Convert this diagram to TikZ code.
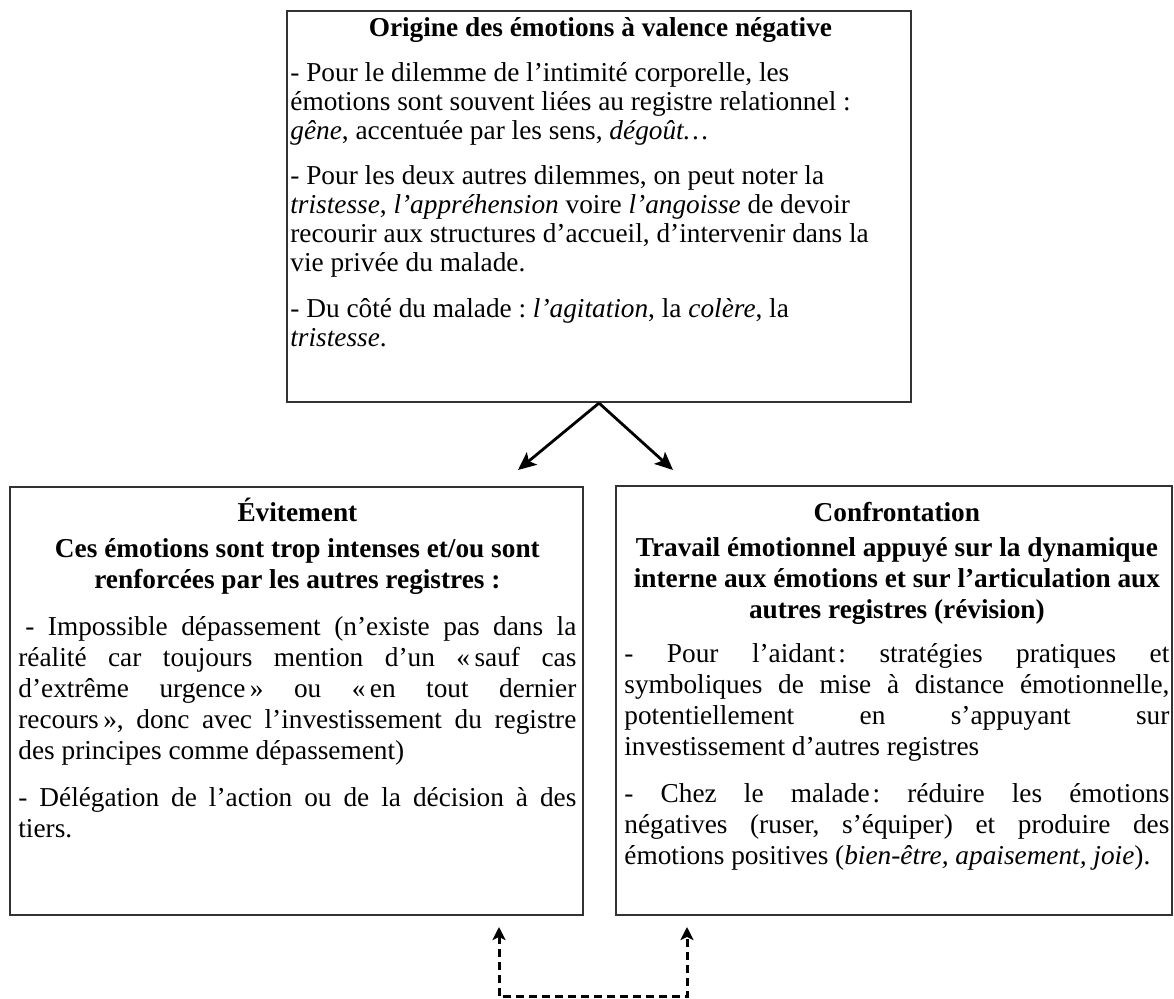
\documentclass[tikz,border=0pt]{standalone}
\usepackage{fontspec}
\setmainfont{Liberation Serif}
\usetikzlibrary{arrows.meta}
\newcommand\bodyfnt{\fontsize{13.65pt}{15.5pt}\selectfont\frenchspacing\hbadness=10000\hfuzz=30pt}
\newcommand\topfnt{\fontsize{13.65pt}{14.5pt}\selectfont\frenchspacing\hbadness=10000\hfuzz=30pt}
\newcommand\jline[1]{\hbox to\hsize{#1}}
\newcommand\nline[1]{\hbox{#1}}
\newcommand\ctrline[1]{\hbox to\hsize{\hss#1\hss}}
\newcommand\txtblock[2]{\vtop{\hsize=#1\relax #2}}
\begin{document}
\begin{tikzpicture}[x=0.5pt,y=-0.5pt,
  boxst/.style={draw=black!80, line width=1.1pt, inner sep=0pt},
  txt/.style={inner sep=0pt, anchor=base west},
  arr/.style={line width=1.4pt, -{Stealth[length=9pt,width=8pt,inset=2pt]}},
  dsh/.style={line width=1.5pt, dash pattern=on 4pt off 2.5pt,
    {Stealth[length=6.5pt,width=6.5pt,inset=1.5pt]}-{Stealth[length=6.5pt,width=6.5pt,inset=1.5pt]}}]
\useasboundingbox (0,0) rectangle (1174,999);

% boxes
\node[boxst, minimum width=312pt, minimum height=195.5pt] (top) at (599,206.5) {};
\node[boxst, minimum width=286.5pt, minimum height=214pt] (left) at (296.5,701) {};
\node[boxst, minimum width=278pt, minimum height=214.5pt] (right) at (894,700.5) {};

% texts
\node[txt, font=\topfnt] (toptxt) at (290,37) {\txtblock{310pt}{%
\ctrline{\bfseries Origine des émotions à valence négative}
\vskip8pt
\nline{- Pour le dilemme de l’intimité corporelle, les}
\nline{émotions sont souvent liées au registre relationnel :}
\nline{\textit{gêne}, accentuée par les sens, \textit{dégoût…}}
\vskip8pt
\nline{- Pour les deux autres dilemmes, on peut noter la}
\nline{\textit{tristesse}, \textit{l’appréhension} voire \textit{l’angoisse} de devoir}
\nline{recourir aux structures d’accueil, d’intervenir dans la}
\nline{vie privée du malade.}
\vskip8.5pt
\nline{- Du côté du malade : \textit{l’agitation}, la \textit{colère}, la}
\nline{\textit{tristesse}.}}};

\node[txt, font=\bodyfnt] (lefttxt) at (18,522) {\txtblock{279pt}{%
\ctrline{\bfseries Évitement}
\vskip2.5pt
\ctrline{\bfseries Ces émotions sont trop intenses et/ou sont}
\ctrline{\bfseries renforcées par les autres registres :}
\vskip8pt
\jline{\kern3.5pt- Impossible dépassement (n’existe pas dans la}
\jline{réalité car toujours mention d’un «\,sauf cas}
\jline{d’extrême urgence\,» ou «\,en tout dernier}
\jline{recours\,», donc avec l’investissement du registre}
\nline{des principes comme dépassement)}
\vskip8pt
\jline{- Délégation de l’action ou de la décision à des}
\nline{tiers.}}};

\node[txt, font=\bodyfnt] (righttxt) at (624,522) {\txtblock{272.5pt}{%
\ctrline{\bfseries Confrontation}
\vskip2pt
\ctrline{\bfseries Travail émotionnel appuyé sur la dynamique}
\ctrline{\bfseries interne aux émotions et sur l’articulation aux}
\ctrline{\bfseries autres registres (révision)}
\vskip6.5pt
\jline{- Pour l’aidant\kern1.5pt: stratégies pratiques et}
\jline{symboliques de mise à distance émotionnelle,}
\jline{potentiellement en s’appuyant sur}
\nline{investissement d’autres registres}
\vskip8pt
\jline{- Chez le malade\kern1.5pt: réduire les émotions}
\jline{négatives (ruser, s’équiper) et produire des}
\nline{émotions positives (\textit{bien-être, apaisement, joie}).}}};

% connectors
\coordinate (tl) at (518,470);
\coordinate (tr) at (673,470);
\draw[arr] (top.south) -- (tl);
\draw[arr] (top.south) -- (tr);

\coordinate (al) at (499,927);
\coordinate (ar) at (687,927);
\coordinate (dl) at (499,997);
\coordinate (dr) at (687,997);
\draw[dsh] (al) -- (dl) -- (dr) -- (ar);
\end{tikzpicture}
\end{document}
